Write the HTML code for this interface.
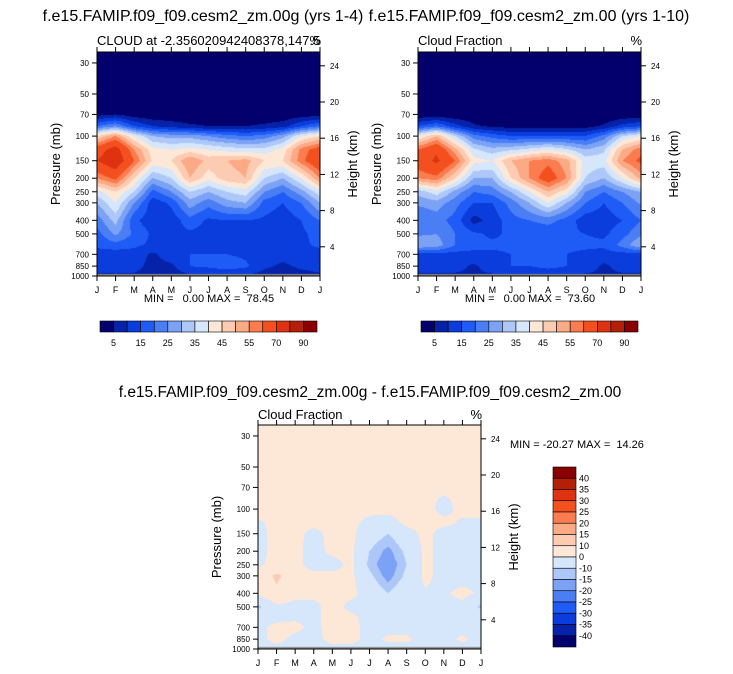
<!DOCTYPE html>
<html><head><meta charset="utf-8"><style>
body{margin:0;background:#fff;width:733px;height:674px;overflow:hidden;position:relative;font-family:"Liberation Sans",sans-serif}
canvas{position:absolute;left:0;top:0}
svg{position:absolute;left:0;top:0}
svg text{white-space:pre}
</style></head><body>
<canvas id="cv" width="733" height="674"></canvas>
<svg id="sv" width="733" height="674" xmlns="http://www.w3.org/2000/svg"></svg>
<script>
const months=["J","F","M","A","M","J","J","A","S","O","N","D","J"];
const pLevels=[25,30,50,70,85,100,125,150,200,250,300,400,500,600,700,850,1000];
const pTicks=[30,50,70,100,150,200,250,300,400,500,700,850,1000];
const zTicks=[4,8,12,16,20,24];
const levels=[5,10,15,20,25,30,35,40,45,50,55,60,70,80,90];
const levelLabels=[5,15,25,35,45,55,70,90];
const diffLevels=[-40,-35,-30,-25,-20,-15,-10,0,10,15,20,25,30,35,40];
const palette=["#03006d","#0522a8","#0a3ddc","#1f5cf6","#4a7ef5","#7ba2f5","#adc8f8","#d6e6fb","#fde8d8","#fccbb1","#fbaa86","#fb7c4e","#f4501f","#df3210","#b51f08","#8a0000"];
const cloudA=[
[0,0,0,0,0,0,0,0,0,0,0,0,0],
[0,0,0,0,0,0,0,0,0,0,0,0,0],
[0,0,0,0,0,0,0,0,0,0,0,0,0],
[3,5,2,1,1,1,1,1,1,1,1,2,3],
[20,25,15,10,8,6,5,5,5,6,8,15,20],
[45,55,40,30,28,28,25,22,20,22,28,40,45],
[65,75,55,42,40,42,40,38,37,37,42,57,64],
[70,78,60,44,45,55,48,50,52,45,45,58,68],
[55,62,45,30,35,50,42,48,50,35,30,40,55],
[38,45,35,18,25,35,30,35,38,25,20,28,38],
[30,40,25,12,16,28,22,28,30,18,15,20,30],
[22,32,16,12,12,18,14,15,15,14,12,15,20],
[18,26,19,14,13,14,13,14,14,14,11,14,17],
[16,18,16,14,14,15,14,14,14,14,14,14,16],
[13,12,13,9,13,15,15,15,14,12,12,13,13],
[12,13,12,8,9,15,16,18,16,11,9,11,12],
[9,9,9,7,7,9,9,9,9,8,7,8,9]];
const cloudB=[
[0,0,0,0,0,0,0,0,0,0,0,0,0],
[0,0,0,0,0,0,0,0,0,0,0,0,0],
[0,0,0,0,0,0,0,0,0,0,0,0,0],
[1,1,1,1,0,0,0,0,0,0,0,1,1],
[15,20,12,6,4,3,3,3,3,3,6,12,15],
[40,50,35,22,18,15,15,15,15,15,22,35,40],
[60,68,52,36,32,34,37,40,36,30,34,50,58],
[65,72,60,42,40,50,55,58,52,38,38,55,62],
[55,58,45,30,30,45,55,65,55,35,30,40,52],
[32,38,28,20,22,30,40,50,42,25,20,25,30],
[26,28,22,15,15,22,30,40,30,20,15,20,26],
[20,22,18,8,12,18,20,22,18,12,12,15,20],
[24,25,20,16,14,16,16,16,16,15,14,18,24],
[30,28,20,16,16,16,16,16,16,16,16,22,30],
[13,13,13,14,14,15,16,16,15,14,13,13,13],
[12,12,12,9,13,15,15,17,15,13,9,12,12],
[9,9,9,9,9,9,9,9,9,9,9,9,9]];
const cloudDiff=[
[2,2,2,2,2,2,2,2,2,2,2,2,2],
[2,2,2,2,2,2,2,2,2,2,2,2,2],
[2,2,2,2,2,2,2,2,2,2,2,2,2],
[2,2,2,2,2,2,2,2,2,2,2,2,2],
[2,2,2,2,2,2,2,2,2,2,-1,2,2],
[2,5,2,2,2,2,2,2,2,2,-2,2,2],
[-1,2,2,2,2,2,-2,-3,2,2,2,-1,-1],
[-2,2,2,-2,2,2,-5,-10,-3,2,-3,-3,-2],
[-2,2,2,-3,2,2,-10,-17,-8,2,-3,-3,-2],
[-1,2,2,-3,-3,2,-12,-20,-10,2,-3,-3,-3],
[2,12,4,2,2,2,-8,-18,-8,2,-3,-3,-3],
[2,8,2,2,2,2,-3,-10,-3,-1,-1,2,-1],
[-12,-2,-2,-2,3,-2,-3,-3,-3,-3,-3,-2,-12],
[-2,-2,-1,-2,3,2,-3,-3,-3,-3,-2,-3,-2],
[-2,2,2,-2,3,2,-2,-2,-2,-2,-2,-2,-2],
[-2,2,-2,-2,2,2,-2,1,1,-2,-2,1,-2],
[-2,-2,-2,-2,-2,-2,-2,-2,-2,-2,-2,-2,-2]];

const NS="http://www.w3.org/2000/svg";
const sv=document.getElementById('sv');
const ctx=document.getElementById('cv').getContext('2d');
function el(tag,attrs,text){const e=document.createElementNS(NS,tag);for(const k in attrs)e.setAttribute(k,attrs[k]);if(text!==undefined)e.textContent=text;sv.appendChild(e);return e;}
function colorFor(v,lv){let i=0;while(i<lv.length&&v>=lv[i])i++;return palette[i];}

function drawPanel(x0,y0,data,lv,name){
  const W=223,H=224,pxDec=139.9;
  const yOfP=p=>y0+H-(Math.log10(1000)-Math.log10(p))*pxDec;
  const xOfM=m=>x0+m*W/12;
  const lp=pLevels.map(p=>Math.log10(p));
  for(let py=0;py<H;py++){
    const L=Math.log10(1000)-(H-py-0.5)/pxDec;
    let r=0;while(r<lp.length-2&&L>lp[r+1])r++;
    let t=(L-lp[r])/(lp[r+1]-lp[r]);t=Math.max(0,Math.min(1,t));
    for(let px=0;px<W;px++){
      const m=(px+0.5)/W*12;let c=Math.min(11,Math.floor(m));const u=m-c;
      const v=(data[r][c]*(1-u)+data[r][c+1]*u)*(1-t)+(data[r+1][c]*(1-u)+data[r+1][c+1]*u)*t;
      ctx.fillStyle=colorFor(v,lv);ctx.fillRect(x0+px,y0+py,1,1);
    }
  }
  ctx.fillStyle="#888";ctx.fillRect(x0,y0+H-2,W,2);
  let b=el('rect',{x:x0,y:y0,width:W,height:H,fill:'none',stroke:'#000','stroke-width':1});
  
  months.forEach((m,i)=>{
    const x=xOfM(i);
    el('line',{x1:x,y1:y0+H,x2:x,y2:y0+H+5,stroke:'#000'});
    el('line',{x1:x,y1:y0,x2:x,y2:y0-5,stroke:'#000'});
    const t=el('text',{x:x,y:y0+H+17,'font-size':9,'text-anchor':'middle'},m);
    
  });
  pTicks.forEach(p=>{
    const y=yOfP(p);
    el('line',{x1:x0,y1:y,x2:x0-5,y2:y,stroke:'#000'});
    const t=el('text',{x:x0-8,y:y+3,'font-size':8,'text-anchor':'end'},p);
    
  });
  zTicks.forEach(z=>{
    const y=y0+H+7-9.05*z;
    el('line',{x1:x0+W,y1:y,x2:x0+W+5,y2:y,stroke:'#000'});
    const t=el('text',{x:x0+W+10,y:y+3,'font-size':8},z);
    
  });
  let a=el('text',{x:0,y:0,'font-size':13,'text-anchor':'middle',transform:`translate(${x0-37},${y0+H/2}) rotate(-90)`},'Pressure (mb)');
  
  a=el('text',{x:0,y:0,'font-size':13,'text-anchor':'middle',transform:`translate(${x0+W+37},${y0+H/2}) rotate(-90)`},'Height (km)');
  
}
function hBar(x0,y0,name){
  const w=217/16;
  palette.forEach((c,i)=>{const r=el('rect',{x:x0+i*w,y:y0,width:w,height:11,fill:c,stroke:'#000','stroke-width':0.6});
    });
  levels.forEach((v,i)=>{if(levelLabels.includes(v)){const t=el('text',{x:x0+(i+1)*w,y:y0+25,'font-size':9,'text-anchor':'middle'},v);
    }});
}
drawPanel(97,52,cloudA,levels,'panel-a');
drawPanel(418,52,cloudB,levels,'panel-b');
drawPanel(258,425,cloudDiff,diffLevels,'panel-diff');
hBar(100,321,'colorbar-a');
hBar(421,321,'colorbar-b');
{const x0=553,y0=467,h=180/16;
 palette.slice().reverse().forEach((c,i)=>{const r=el('rect',{x:x0,y:y0+i*h,width:23,height:h,fill:c,stroke:'#000','stroke-width':0.6});
   });
 diffLevels.slice().reverse().forEach((v,i)=>{const t=el('text',{x:x0+26,y:y0+(i+1)*h+3,'font-size':9},v);
   });}
function txt(x,y,s,size,anchor,name){const t=el('text',{x:x,y:y,'font-size':size,'text-anchor':anchor},s);
  }
txt(203,21,'f.e15.FAMIP.f09_f09.cesm2_zm.00g (yrs 1-4)',16,'middle','title-a');
txt(529,21,'f.e15.FAMIP.f09_f09.cesm2_zm.00 (yrs 1-10)',16,'middle','title-b');
txt(97,45,'CLOUD at -2.356020942408378,147.5',13,'start','subtitle-a');
txt(321,45,'%',13,'end','units-a');
txt(418,45,'Cloud Fraction',13,'start','subtitle-b');
txt(642,45,'%',13,'end','units-b');
txt(209,302,'MIN =   0.00 MAX =  78.45',11,'middle','minmax-a');
txt(530,302,'MIN =   0.00 MAX =  73.60',11,'middle','minmax-b');
txt(370,397,'f.e15.FAMIP.f09_f09.cesm2_zm.00g - f.e15.FAMIP.f09_f09.cesm2_zm.00',15.5,'middle','title-diff');
txt(258,419,'Cloud Fraction',13,'start','subtitle-diff');
txt(482,419,'%',13,'end','units-diff');
txt(510,448,'MIN = -20.27 MAX =  14.26',11,'start','minmax-diff');
</script>
</body></html>
